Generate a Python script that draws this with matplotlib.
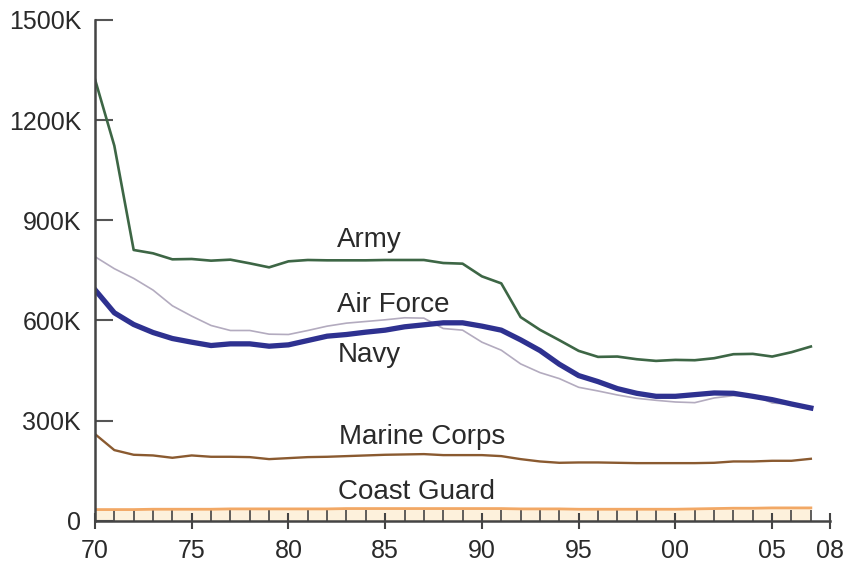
import matplotlib.pyplot as plt
from matplotlib.ticker import FixedLocator

plt.rcParams['font.family'] = ['Liberation Sans', 'DejaVu Sans']

years = list(range(1970, 2008))

# active duty personnel, thousands
army = [1322, 1123, 811, 801, 783, 784, 779, 782, 771, 759,
        777, 781, 780, 780, 780, 781, 781, 781, 772, 770,
        732, 711, 610, 572, 541, 509, 491, 492, 484, 479,
        482, 481, 487, 499, 500, 492, 505, 522]
air_force = [791, 755, 726, 691, 644, 613, 585, 570, 570, 559,
             558, 570, 583, 592, 597, 602, 608, 607, 576, 571,
             535, 511, 470, 444, 426, 400, 389, 377, 367, 361,
             356, 354, 368, 375, 377, 353, 349, 334]
navy = [692, 623, 588, 564, 546, 535, 525, 530, 530, 523,
        527, 540, 553, 558, 565, 571, 581, 587, 593, 593,
        583, 571, 542, 510, 469, 435, 417, 396, 382, 373,
        373, 378, 383, 382, 373, 363, 350, 338]
marines = [260, 212, 198, 196, 189, 196, 192, 192, 191, 185,
           188, 191, 192, 194, 196, 198, 199, 200, 197, 197,
           197, 194, 185, 178, 174, 175, 175, 174, 173, 173,
           173, 173, 174, 178, 178, 180, 180, 186]
coast_guard = [34, 34, 34, 35, 35, 35, 35, 36, 36, 36,
               36, 36, 36, 37, 37, 37, 37, 37, 37, 37,
               37, 37, 36, 36, 36, 35, 35, 35, 35, 35,
               35, 36, 37, 38, 38, 39, 39, 39]

x_ticks = [1970, 1975, 1980, 1985, 1990, 1995, 2000, 2005, 2008]
x_labels = ['70', '75', '80', '85', '90', '95', '00', '05', '08']
y_ticks = [0, 300, 600, 900, 1200, 1500]
y_labels = ['0', '300K', '600K', '900K', '1200K', '1500K']

fig = plt.figure(figsize=(8.48, 5.65), dpi=100)
ax = fig.add_axes([0.112, 0.078, 0.867, 0.887])

ax.fill_between(years, 0, coast_guard, color='#fdf1dc', lw=0)
ax.plot(years, coast_guard, color='#f2a865', lw=2)
ax.plot(years, marines, color='#8a5a30', lw=1.7, solid_joinstyle='round')
ax.plot(years, air_force, color='#b3abbf', lw=1.2, solid_joinstyle='round')
ax.plot(years, navy, color='#2e3190', lw=3.8, solid_joinstyle='round')
ax.plot(years, army, color='#3d6645', lw=1.9, solid_joinstyle='round')

txt = dict(fontsize=20, color='#2a2a2a', ha='center', va='center')
ax.text(1984.2, 841, 'Army', **txt)
ax.text(1985.4, 647, 'Air Force', **txt)
ax.text(1984.2, 497, 'Navy', **txt)
ax.text(1986.9, 251, 'Marine Corps', **txt)
ax.text(1986.6, 87, 'Coast Guard', **txt)

ax.set_xlim(1970, 2008)
ax.set_ylim(0, 1500)
ax.set_xticks(x_ticks)
ax.set_xticklabels(x_labels)
ax.xaxis.set_minor_locator(FixedLocator(list(range(1970, 2009))))
ax.set_yticks(y_ticks)
ax.set_yticklabels(y_labels)

for s in ['top', 'right']:
    ax.spines[s].set_visible(False)
for s in ['left', 'bottom']:
    ax.spines[s].set_color('#444444')
    ax.spines[s].set_linewidth(1.8)

ax.tick_params(axis='x', which='major', direction='inout', length=12, width=1.5,
               color='#444444', labelsize=18, labelcolor='#2a2a2a', pad=7)
ax.tick_params(axis='x', which='minor', direction='in', length=8, width=1.2,
               color='#444444')
ax.tick_params(axis='y', which='major', direction='in', length=13, width=1.5,
               color='#555555', labelsize=18, labelcolor='#2a2a2a', pad=10)

plt.savefig('out.png', dpi=100)
